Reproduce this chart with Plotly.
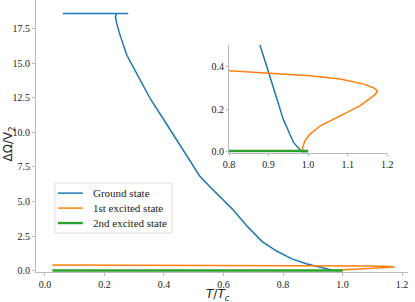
import plotly.graph_objects as go

# Ground state
gs_x = [0.06, 0.28, 0.24, 0.237, 0.24, 0.25, 0.262, 0.275, 0.30, 0.32, 0.355, 0.40, 0.455, 0.52,
        0.555, 0.63, 0.68, 0.73, 0.78, 0.83, 0.878, 0.90, 0.937, 0.963, 0.984, 1.0]
gs_y = [18.6, 18.6, 18.6, 18.35, 18.0, 17.2, 16.4, 15.6, 14.6, 13.8, 12.4, 10.9, 9.0, 6.85,
        6.05, 4.45, 3.2, 2.1, 1.4, 0.85, 0.5, 0.372, 0.153, 0.044, 0.0, 0.0]

# 1st excited state
e1_x = [0.025, 0.2, 0.4, 0.6, 0.8, 0.899, 1.005, 1.081, 1.141, 1.165, 1.175, 1.172, 1.166,
        1.132, 1.081, 1.031, 1.005, 0.992, 0.986, 0.986]
e1_y = [0.41, 0.405, 0.40, 0.392, 0.38, 0.369, 0.356, 0.341, 0.317, 0.300, 0.287, 0.275, 0.263,
        0.216, 0.169, 0.122, 0.083, 0.052, 0.020, 0.0]

# 2nd excited state
e2_x = [0.025, 0.5, 1.0]
e2_y = [0.004, 0.004, 0.004]

names = ["Ground state", "1st excited state", "2nd excited state"]
colors = ["#1f77b4", "#ff7f0e", "#2ca02c"]
widths = [1.5, 1.5, 2.4]
series = [(gs_x, gs_y), (e1_x, e1_y), (e2_x, e2_y)]

main_xticks = [0.0, 0.2, 0.4, 0.6, 0.8, 1.0, 1.2]
main_yticks = [0.0, 2.5, 5.0, 7.5, 10.0, 12.5, 15.0, 17.5]
inset_xticks = [0.8, 0.9, 1.0, 1.1, 1.2]
inset_yticks = [0.0, 0.2, 0.4]

fig = go.Figure()
for (xs, ys), n, c, w in zip(series, names, colors, widths):
    fig.add_trace(go.Scatter(x=xs, y=ys, mode="lines", name=n, showlegend=False,
                             line=dict(color=c, width=w), xaxis="x", yaxis="y"))
for (xs, ys), n, c, w in zip(series, names, colors, widths):
    fig.add_trace(go.Scatter(x=xs, y=ys, mode="lines", name=n, showlegend=False,
                             line=dict(color=c, width=w), xaxis="x2", yaxis="y2"))

serif = "Liberation Serif, Times New Roman, DejaVu Serif, serif"
axcol = "#b8b8b8"
tickfont = dict(family=serif, size=10, color="#222")

common = dict(showgrid=False, zeroline=False, showline=True, linecolor=axcol, linewidth=1,
              ticks="outside", tickcolor=axcol, tickfont=tickfont, tickformat=".1f",
              automargin=False)

# legend drawn as box + sample lines + labels
shapes = [dict(type="rect", xref="paper", yref="paper", x0=0.051, x1=0.366, y0=0.143, y1=0.327,
               line=dict(color="#dddddd", width=1), fillcolor="white", layer="above")]
annotations = []
leg_y = [0.290, 0.235, 0.180]
for n, c, w, ly in zip(names, colors, widths, leg_y):
    shapes.append(dict(type="line", xref="paper", yref="paper", x0=0.059, x1=0.126, y0=ly, y1=ly,
                       line=dict(color=c, width=w), layer="above"))
    annotations.append(dict(text=n, xref="paper", yref="paper", x=0.148, y=ly,
                            xanchor="left", yanchor="middle", showarrow=False,
                            font=dict(family=serif, size=11, color="#222")))

annotations += [
    dict(text="<i>T</i>/<i>T</i><sub><i>c</i></sub>", xref="paper", yref="paper",
         x=0.49, y=-0.084, xanchor="center", yanchor="middle", showarrow=False,
         font=dict(family="DejaVu Sans", size=12, color="#222")),
    dict(text="ΔΩ/V<sub>2</sub>", xref="paper", yref="paper", textangle=-90,
         x=-0.072, y=0.47, xanchor="center", yanchor="middle", showarrow=False,
         font=dict(family="DejaVu Sans", size=12, color="#222")),
]

fig.update_layout(
    width=415, height=302,
    margin=dict(l=36, r=7, t=0, b=30),
    paper_bgcolor="white", plot_bgcolor="white",
    font=dict(family=serif),
    showlegend=False,
    xaxis=dict(domain=[0, 1], range=[-0.03, 1.22], tickvals=main_xticks, ticklen=3, **common),
    yaxis=dict(domain=[0, 1], range=[-0.1, 19.58], tickvals=main_yticks, ticklen=3, **common),
    xaxis2=dict(domain=[0.519, 0.944], range=[0.8, 1.2], tickvals=inset_xticks,
                anchor="y2", ticklen=2, **common),
    yaxis2=dict(domain=[0.4386, 0.8346], range=[-0.004, 0.5], tickvals=inset_yticks,
                anchor="x2", ticklen=2, **common),
    shapes=shapes,
    annotations=annotations,
)

fig.write_html("out.html", config={"displayModeBar": False},
               post_script="document.body.style.margin='0';")
